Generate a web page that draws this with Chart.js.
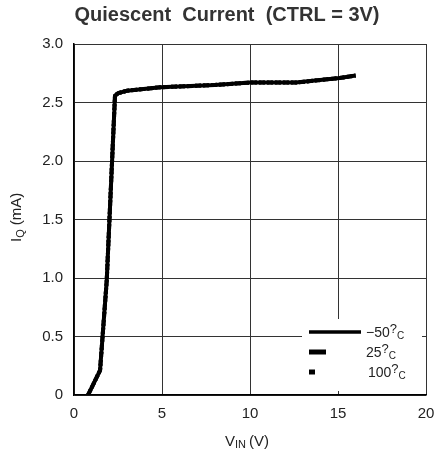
<!DOCTYPE html>
<html>
<head>
<meta charset="utf-8">
<script src="https://cdn.jsdelivr.net/npm/chart.js@4/dist/chart.umd.min.js"></script>
<style>
  html, body { margin: 0; padding: 0; background: #fff; }
  #box { width: 435px; height: 451px; }
</style>
</head>
<body>
<div id="box"><canvas id="grafico"></canvas></div>
<script>
// dati
const vin = [0.8, 1.48, 1.86, 2.33, 2.52, 3.0, 4.9, 8, 10, 12.6, 15.1, 16.0];
const iqMeno50 = [0, 0.21, 0.98, 2.56, 2.58, 2.6, 2.63, 2.65, 2.67, 2.67, 2.71, 2.73];
const iq25 = [0, 0.21, 0.98, 2.56, 2.58, 2.6, 2.63, 2.65, 2.67, 2.67, 2.71, 2.73];
const iq100 = [0, 0.21, 0.98, 2.56, 2.58, 2.6, 2.63, 2.65, 2.67, 2.67, 2.71, 2.73];
const etichette = ["\u221250", "25", "100"];
const xTicks = [0, 5, 10, 15, 20];
const yTicks = [0, 0.5, 1.0, 1.5, 2.0, 2.5, 3.0];

const FONT = "'Liberation Sans', Arial, sans-serif";
const punti = (ys) => vin.map((x, i) => ({ x: x, y: ys[i] }));

// titolo, titoli assi e legenda disegnati a mano
const disegnaTesti = {
  id: "disegnaTesti",
  afterDraw(chart) {
    const ctx = chart.ctx;
    const area = chart.chartArea;
    ctx.save();
    ctx.fillStyle = "#333";
    ctx.font = "bold 20px " + FONT;
    ctx.textAlign = "center";
    ctx.textBaseline = "alphabetic";
    ctx.fillText("Quiescent  Current  (CTRL = 3V)", 227, 21);

    // titolo asse x: VIN (V)
    ctx.fillStyle = "#222";
    ctx.textAlign = "left";
    ctx.font = "15px " + FONT;
    let x = 225;
    ctx.fillText("V", x, 446);
    x += ctx.measureText("V").width;
    ctx.font = "11px " + FONT;
    ctx.fillText("IN", x, 448);
    x += ctx.measureText("IN").width + 3;
    ctx.font = "15px " + FONT;
    ctx.fillText("(V)", x, 446);

    // titolo asse y: IQ (mA)
    ctx.translate(21, 242);
    ctx.rotate(-Math.PI / 2);
    let y = 0;
    ctx.fillText("I", y, 0);
    y += ctx.measureText("I").width;
    ctx.font = "11px " + FONT;
    ctx.fillText("Q", y, 3);
    y += ctx.measureText("Q").width + 4;
    ctx.font = "15px " + FONT;
    ctx.fillText("(mA)", y, 0);
    ctx.restore();

    // legenda
    ctx.save();
    ctx.fillStyle = "#fff";
    ctx.fillRect(302, 319, 120, area.bottom - 4 - 319);
    const lunghezze = [52, 17, 6];
    const spessori = [3.5, 5, 5];
    const xTesto = [366, 366, 368];
    chart.data.datasets.forEach((ds, i) => {
      const yy = 332 + i * 20;
      ctx.strokeStyle = "#000";
      ctx.lineWidth = spessori[i];
      ctx.beginPath();
      ctx.moveTo(309, yy);
      ctx.lineTo(309 + lunghezze[i], yy);
      ctx.stroke();
      ctx.fillStyle = "#222";
      ctx.textAlign = "left";
      ctx.textBaseline = "alphabetic";
      let tx = xTesto[i];
      ctx.font = "14px " + FONT;
      ctx.fillText(ds.label, tx, yy + 5);
      tx += ctx.measureText(ds.label).width;
      ctx.font = "13px " + FONT;
      ctx.fillText("?", tx, yy + 1);
      tx += ctx.measureText("?").width;
      ctx.font = "10px " + FONT;
      ctx.fillText("C", tx, yy + 7);
    });
    ctx.restore();
  }
};

const grafico = new Chart(document.getElementById("grafico"), {
  type: "scatter",
  data: {
    datasets: [
      { label: etichette[0], data: punti(iqMeno50), showLine: true, borderColor: "#000", borderWidth: 4, pointRadius: 0, tension: 0 },
      { label: etichette[1], data: punti(iq25), showLine: true, borderColor: "#111", borderWidth: 4, borderDash: [6, 2], pointRadius: 0, tension: 0 },
      { label: etichette[2], data: punti(iq100), showLine: true, borderColor: "#222", borderWidth: 4, borderDash: [2, 2], pointRadius: 0, tension: 0 }
    ]
  },
  options: {
    responsive: true,
    maintainAspectRatio: false,
    animation: false,
    layout: { padding: { top: 44, right: 9, left: 0, bottom: 0 } },
    plugins: {
      legend: { display: false },
      title: { display: false },
      tooltip: { enabled: false }
    },
    scales: {
      x: {
        type: "linear",
        min: 0,
        max: 20,
        afterBuildTicks: (s) => { s.ticks = xTicks.map(v => ({ value: v })); },
        afterFit: (s) => { s.height = 56; s.paddingLeft = 0; s.paddingRight = 0; },
        ticks: { color: "#222", font: { size: 15, family: FONT }, padding: 10, maxRotation: 0 },
        grid: { color: "#333", lineWidth: 1, drawTicks: false },
        border: { color: "#000", width: 1.5 }
      },
      y: {
        min: 0,
        max: 3,
        afterBuildTicks: (s) => { s.ticks = yTicks.map(v => ({ value: v })); },
        afterFit: (s) => { s.width = 74; s.paddingTop = 0; s.paddingBottom = 0; },
        ticks: {
          color: "#222",
          font: { size: 15, family: FONT },
          padding: 11,
          callback: (v) => (v === 0 ? "0" : v.toFixed(1))
        },
        grid: { color: "#333", lineWidth: 1, drawTicks: false },
        border: { color: "#000", width: 1.5 }
      }
    }
  },
  plugins: [disegnaTesti]
});
</script>
</body>
</html>
